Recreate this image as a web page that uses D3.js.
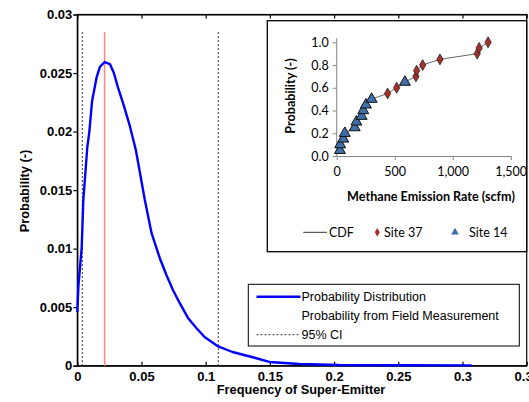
<!DOCTYPE html>
<html>
<head>
<meta charset="utf-8">
<script src="https://cdn.jsdelivr.net/npm/d3@7.9.0/dist/d3.min.js"></script>
<style>
  body { margin: 0; background: #fff; }
  svg { display: block; }
  .main-axis text { font-family: "Liberation Sans", Arial, sans-serif; font-weight: bold; font-size: 13px; fill: #000; }
  .main-axis path, .main-axis line { stroke: #000; stroke-width: 1.2; }
  .inset-axis text { font-family: Lato, "Open Sans", sans-serif; font-size: 12.5px; fill: #000; }
  .inset-axis path, .inset-axis line { stroke: #868686; stroke-width: 1; }
</style>
</head>
<body>
<svg id="chart" width="529" height="402"></svg>
<script>
// main chart: simulated distribution of super-emitter frequency
const freq = [0, 0.0009, 0.0034, 0.0047, 0.0078, 0.0094, 0.0115, 0.0151, 0.0176, 0.0213, 0.0254,
  0.0285, 0.0316, 0.0363, 0.0409, 0.0456, 0.0526, 0.0578, 0.0642, 0.0694, 0.0745,
  0.0797, 0.0862, 0.0927, 0.0991, 0.1092, 0.1209, 0.1388, 0.1496, 0.173, 0.204, 0.25, 0.307];
const prob = [0.00459, 0.00689, 0.01005, 0.01415, 0.01868, 0.0200, 0.0226, 0.02466, 0.02552, 0.02594, 0.02577,
  0.0250, 0.0238, 0.02219, 0.02048, 0.01843, 0.01415, 0.01134, 0.0092, 0.00775, 0.00647,
  0.00536, 0.00408, 0.00322, 0.00245, 0.00168, 0.00117, 0.00066, 0.00032, 0.00015, 0.00006, 0.00004, 0.00003];
const ciBounds = [0.0039, 0.1098];
const fieldFreq = 0.0213;
const markerTop = 0.0285;
const xTicks = [0, 0.05, 0.1, 0.15, 0.2, 0.25, 0.3, 0.35];
const yTicks = [0, 0.005, 0.01, 0.015, 0.02, 0.025, 0.03];
const legendLabels = ['Probability Distribution', 'Probability from Field Measurement', '95% CI'];

// inset: cumulative distribution of measured emission rates
const site14Rate = [28, 30, 57, 70, 155, 170, 215, 229, 252, 301, 588];
const site14Prob = [0.05, 0.10, 0.15, 0.20, 0.25, 0.30, 0.35, 0.40, 0.45, 0.50, 0.65];
const site37Rate = [439, 517, 683, 689, 741, 890, 1211, 1228, 1305];
const site37Prob = [0.55, 0.60, 0.70, 0.75, 0.80, 0.85, 0.90, 0.95, 1.00];
const insetXTicks = [0, 500, 1000, 1500];
const insetYTicks = [0, 0.2, 0.4, 0.6, 0.8, 1.0];

const svg = d3.select('#chart');

const x = d3.scaleLinear().domain([0, 0.35]).range([77.3, 526.7]);
const y = d3.scaleLinear().domain([0, 0.03]).range([365.7, 14.5]);

// frame
svg.append('rect')
  .attr('x', x(0)).attr('y', y(0.03))
  .attr('width', x(0.35) - x(0)).attr('height', y(0) - y(0.03))
  .attr('fill', 'none').attr('stroke', '#000').attr('stroke-width', 1.2);

svg.append('g').attr('class', 'main-axis')
  .attr('transform', `translate(0,${y(0)})`)
  .call(d3.axisBottom(x).tickValues(xTicks).tickFormat(d3.format('~g'))
    .tickSizeInner(-4).tickSizeOuter(0).tickPadding(6));

svg.append('g').attr('class', 'main-axis')
  .attr('transform', `translate(0,${y(0.03)})`)
  .call(d3.axisTop(x).tickValues(xTicks).tickFormat('')
    .tickSizeInner(-4).tickSizeOuter(0));

svg.append('g').attr('class', 'main-axis')
  .attr('transform', `translate(${x(0)},0)`)
  .call(d3.axisLeft(y).tickValues(yTicks).tickFormat(d3.format('~g'))
    .tickSize(4).tickPadding(1));

svg.append('text')
  .attr('x', 301).attr('y', 393.5)
  .attr('text-anchor', 'middle')
  .style('font', 'bold 12.8px "Liberation Sans", Arial, sans-serif')
  .text('Frequency of Super-Emitter');

svg.append('text')
  .attr('transform', 'translate(29,191) rotate(-90)')
  .attr('text-anchor', 'middle')
  .style('font', 'bold 12.8px "Liberation Sans", Arial, sans-serif')
  .text('Probability (-)');

// confidence interval and field measurement
svg.selectAll('.ci')
  .data(ciBounds)
  .join('line')
  .attr('class', 'ci')
  .attr('x1', (d) => x(d)).attr('x2', (d) => x(d))
  .attr('y1', y(markerTop)).attr('y2', y(0))
  .attr('stroke', '#333').attr('stroke-width', 1).attr('stroke-dasharray', '2,2');

svg.append('line')
  .attr('x1', x(fieldFreq)).attr('x2', x(fieldFreq))
  .attr('y1', y(markerTop)).attr('y2', y(0))
  .attr('stroke', '#ff8a8a').attr('stroke-width', 1.6);

const line = d3.line()
  .x((d, i) => x(freq[i]))
  .y((d) => y(d));

svg.append('path')
  .datum(prob)
  .attr('d', line)
  .attr('fill', 'none')
  .attr('stroke', '#0000ff')
  .attr('stroke-width', 2.4)
  .attr('stroke-linejoin', 'round');

// main legend
const legend = svg.append('g');
legend.append('rect')
  .attr('x', 248.3).attr('y', 284.3).attr('width', 271).attr('height', 61.7)
  .attr('fill', '#fff').attr('stroke', '#000').attr('stroke-width', 1);

legend.selectAll('text')
  .data(legendLabels)
  .join('text')
  .attr('x', 301.5)
  .attr('y', (d, i) => 296.7 + i * 19 + 4.5)
  .style('font', '12.5px "Liberation Sans", Arial, sans-serif')
  .text((d) => d);

legend.append('line')
  .attr('x1', 256.5).attr('x2', 300.5).attr('y1', 296.7).attr('y2', 296.7)
  .attr('stroke', '#0000ff').attr('stroke-width', 2.4);
legend.append('line')
  .attr('x1', 256.5).attr('x2', 300.5).attr('y1', 334.7).attr('y2', 334.7)
  .attr('stroke', '#333').attr('stroke-width', 1).attr('stroke-dasharray', '2,2');

// inset chart
const inset = svg.append('g');
inset.append('rect')
  .attr('x', 267.3).attr('y', 20.7).attr('width', 259.4).attr('height', 231)
  .attr('fill', '#fff').attr('stroke', '#000').attr('stroke-width', 1.3);

const ix = d3.scaleLinear().domain([0, 1500]).range([336.7, 510.7]);
const iy = d3.scaleLinear().domain([0, 1]).range([156, 42.3]);

inset.append('g').attr('class', 'inset-axis')
  .attr('transform', `translate(0,${iy(0)})`)
  .call(d3.axisBottom(ix).tickValues(insetXTicks).tickFormat(d3.format(','))
    .tickSize(4).tickSizeOuter(0).tickPadding(7));

const yAxisG = inset.append('g').attr('class', 'inset-axis')
  .attr('transform', `translate(${ix(0)},0)`)
  .call(d3.axisLeft(iy).tickValues(insetYTicks).tickFormat(d3.format('.1f'))
    .tickSize(4).tickSizeOuter(0).tickPadding(4));
yAxisG.select('.domain').attr('d', `M0,${iy(0)}V${iy(1.035)}`);

inset.append('text')
  .attr('x', 431).attr('y', 201)
  .attr('text-anchor', 'middle')
  .style('font', 'bold 12.6px Lato, "Open Sans", sans-serif')
  .text('Methane Emission Rate (scfm)');

inset.append('text')
  .attr('transform', 'translate(295,96) rotate(-90)')
  .attr('text-anchor', 'middle')
  .style('font', 'bold 12.6px Lato, "Open Sans", sans-serif')
  .text('Probability (-)');

const cdf = d3.zip(site14Rate.concat(site37Rate), site14Prob.concat(site37Prob))
  .sort((a, b) => d3.ascending(a[1], b[1]));

inset.append('path')
  .datum(cdf)
  .attr('d', d3.line().x((d) => ix(d[0])).y((d) => iy(d[1])))
  .attr('fill', 'none').attr('stroke', '#555').attr('stroke-width', 0.9);

const diamond = d3.symbol().type(d3.symbolDiamond).size(34);
const triangle = d3.symbol().type(d3.symbolTriangle).size(52);

inset.selectAll('.s37')
  .data(site37Rate)
  .join('path')
  .attr('class', 's37')
  .attr('d', diamond)
  .attr('transform', (d, i) => `translate(${ix(d)},${iy(site37Prob[i])})`)
  .attr('fill', '#a8302c').attr('stroke', '#222').attr('stroke-width', 0.8);

inset.selectAll('.s14')
  .data(site14Rate)
  .join('path')
  .attr('class', 's14')
  .attr('d', triangle)
  .attr('transform', (d, i) => `translate(${ix(d)},${iy(site14Prob[i])})`)
  .attr('fill', '#3f6fa8').attr('stroke', '#111').attr('stroke-width', 1);

// inset legend
const legFont = '12.5px Lato, "Open Sans", sans-serif';
inset.append('line')
  .attr('x1', 303.3).attr('x2', 327).attr('y1', 232.3).attr('y2', 232.3)
  .attr('stroke', '#333').attr('stroke-width', 1);
inset.append('text').attr('x', 329).attr('y', 236.5).style('font', legFont).text('CDF');
inset.append('path')
  .attr('d', d3.symbol().type(d3.symbolDiamond).size(22))
  .attr('transform', 'translate(377.3,232.3)')
  .attr('fill', '#a8302c');
inset.append('text').attr('x', 384).attr('y', 236.5).style('font', legFont).text('Site 37');
inset.append('path')
  .attr('d', d3.symbol().type(d3.symbolTriangle).size(26))
  .attr('transform', 'translate(455,232.3)')
  .attr('fill', '#3f6fa8');
inset.append('text').attr('x', 469).attr('y', 236.5).style('font', legFont).text('Site 14');
</script>
</body>
</html>
